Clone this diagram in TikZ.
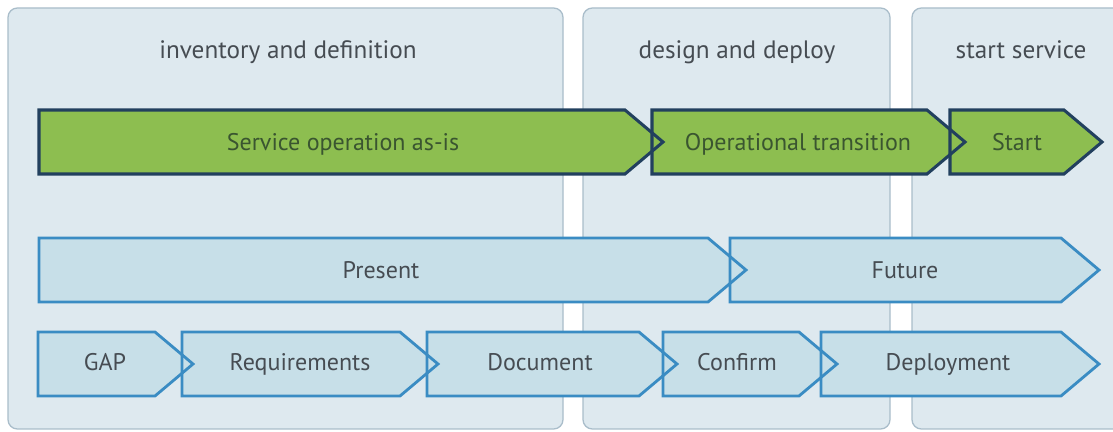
\documentclass[tikz,border=0pt]{standalone}
\usepackage{fontspec}
\setmainfont{PT Sans}
\usetikzlibrary{calc}
\definecolor{panelfill}{HTML}{DEE9EF}
\definecolor{panelline}{HTML}{A9BDCA}
\definecolor{greenfill}{HTML}{8DBE50}
\definecolor{greenline}{HTML}{22405E}
\definecolor{greentext}{HTML}{3A5530}
\definecolor{bluefill}{HTML}{C7DFE8}
\definecolor{blueline}{HTML}{3A8CC3}
\definecolor{greytext}{HTML}{464C52}
% chevron: left, tip, top, bottom, style
\newcommand{\chevron}[5]{%
  \path[#5] (#1,#3) -- ({#2-38},#3) -- (#2,{(#3+#4)/2}) -- ({#2-38},#4) -- (#1,#4) -- cycle;}
\begin{document}
\begin{tikzpicture}[x=0.03cm,y=-0.03cm,
  panel/.style={draw=panelline, fill=panelfill, line width=1.1pt, rounded corners=8pt},
  gfill/.style={fill=greenfill},
  gline/.style={draw=greenline, line width=2.6pt, line join=miter},
  bfill/.style={fill=bluefill},
  bline/.style={draw=blueline, line width=2.4pt, line join=miter},
  head/.style={text=greytext, font=\fontsize{21.5}{24}\selectfont, text height=1.5ex, text depth=0pt},
  lbl/.style={text=greytext, font=\fontsize{20.5}{23}\selectfont, text height=1.5ex, text depth=0pt},
  glbl/.style={lbl, text=greentext}]
\clip (0,0) rectangle (1113,432);
\fill[white] (0,0) rectangle (1113,432);
% phases
\draw[panel] (8,8) rectangle (563,429);
\draw[panel] (583,8) rectangle (890,429);
\draw[panel] (912,8) rectangle (1130,429);
\node[head] (inv) at (288,54) {inventory and definition};
\node[head] (dsg) at (737,54) {design and deploy};
\node[head] (srv) at (1021,54) {start service};
% green row
\foreach \s in {gfill,gline}{
  \chevron{39}{663}{110}{174}{\s}
  \chevron{652}{965}{110}{174}{\s}
  \chevron{950}{1102}{110}{174}{\s}
}
\node[glbl] (asis) at (343,146) {Service operation as-is};
\node[glbl] (trans) at (798,146) {Operational transition};
\node[glbl] (start) at (1017,146) {Start};
% present / future
\foreach \s in {bfill,bline}{
  \chevron{39}{746}{238}{302}{\s}
  \chevron{730}{1099}{238}{302}{\s}
}
\node[lbl] (pres) at (381,274) {Present};
\node[lbl] (fut) at (905,274) {Future};
% steps
\foreach \s in {bfill,bline}{
  \chevron{38}{193}{332}{396}{\s}
  \chevron{182}{438}{332}{396}{\s}
  \chevron{427}{677}{332}{396}{\s}
  \chevron{663}{837}{332}{396}{\s}
  \chevron{821}{1099}{332}{396}{\s}
}
\node[lbl] (gap) at (105,366) {GAP};
\node[lbl] (req) at (300,366) {Requirements};
\node[lbl] (doc) at (540,366) {Document};
\node[lbl] (conf) at (737,366) {Confirm};
\node[lbl] (depl) at (948,366) {Deployment};
\end{tikzpicture}
\end{document}
